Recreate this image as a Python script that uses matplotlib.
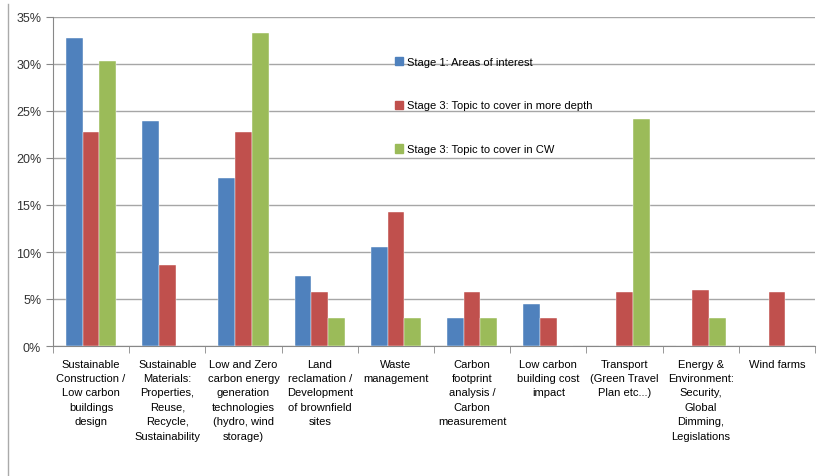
import numpy as np
import matplotlib
matplotlib.use("Agg")
import matplotlib.pyplot as plt
from matplotlib.patches import Patch
from matplotlib.lines import Line2D

categories = [
    "Sustainable\nConstruction /\nLow carbon\nbuildings\ndesign",
    "Sustainable\nMaterials:\nProperties,\nReuse,\nRecycle,\nSustainability",
    "Low and Zero\ncarbon energy\ngeneration\ntechnologies\n(hydro, wind\nstorage)",
    "Land\nreclamation /\nDevelopment\nof brownfield\nsites",
    "Waste\nmanagement",
    "Carbon\nfootprint\nanalysis /\nCarbon\nmeasurement",
    "Low carbon\nbuilding cost\nimpact",
    "Transport\n(Green Travel\nPlan etc...)",
    "Energy &\nEnvironment:\nSecurity,\nGlobal\nDimming,\nLegislations",
    "Wind farms",
]
series_names = [
    "Stage 1: Areas of interest",
    "Stage 3: Topic to cover in more depth",
    "Stage 3: Topic to cover in CW",
]
stage1 = [32.8, 23.9, 17.9, 7.5, 10.5, 3.0, 4.5, 0, 0, 0]
stage3_depth = [22.8, 8.6, 22.8, 5.7, 14.3, 5.7, 3.0, 5.7, 6.0, 5.7]
stage3_cw = [30.3, 0, 33.3, 3.0, 3.0, 3.0, 0, 24.2, 3.0, 0]
colors = ["#4F81BD", "#C0504D", "#9BBB59"]

plt.rcParams['font.family'] = ['Liberation Sans', 'DejaVu Sans']

fig = plt.figure(figsize=(8.28, 4.77), dpi=100)
ax = fig.add_axes([53 / 828, 1 - 347 / 477, 762 / 828, 329 / 477])

x = np.arange(len(categories))
width = 0.22
all_series = [stage1, stage3_depth, stage3_cw]
for i, (vals, col) in enumerate(zip(all_series, colors)):
    ax.bar(x + (i - 1) * width, vals, width, color=col, zorder=3,
           edgecolor="white", linewidth=0.3)

ax.set_xlim(-0.5, len(categories) - 0.5)
ax.set_ylim(0, 35)
ax.set_yticks(np.arange(0, 36, 5))
ax.set_yticklabels(["{}%".format(v) for v in range(0, 36, 5)], fontsize=9, color="#333333")
ax.yaxis.grid(True, color="#a6a6a6", linewidth=1, zorder=0)

ax.set_xticks(x)
ax.set_xticklabels(categories, fontsize=8, linespacing=1.55, va="top")
ax.tick_params(axis="x", length=0, pad=9)
ax.set_xticks(np.arange(-0.5, len(categories) + 0.5, 1), minor=True)
ax.tick_params(axis="x", which="minor", length=5, color="#888888")
ax.tick_params(axis="y", length=5, color="#888888")

for s in ["top", "right"]:
    ax.spines[s].set_visible(False)
for s in ["left", "bottom"]:
    ax.spines[s].set_color("#888888")

handles = [Patch(color=c) for c in colors]
ax.legend(handles, series_names, loc="upper left", bbox_to_anchor=(389 / 828, 1 - 52 / 477),
          bbox_transform=fig.transFigure, frameon=False, fontsize=8,
          handlelength=0.75, handleheight=0.75, handletextpad=0.35, labelspacing=3.05,
          borderpad=0)

fig.add_artist(Line2D([8 / 828, 8 / 828], [0, 1 - 5 / 477], transform=fig.transFigure,
                      color="#aaaaaa", linewidth=1))

fig.savefig("out.png", dpi=100)
